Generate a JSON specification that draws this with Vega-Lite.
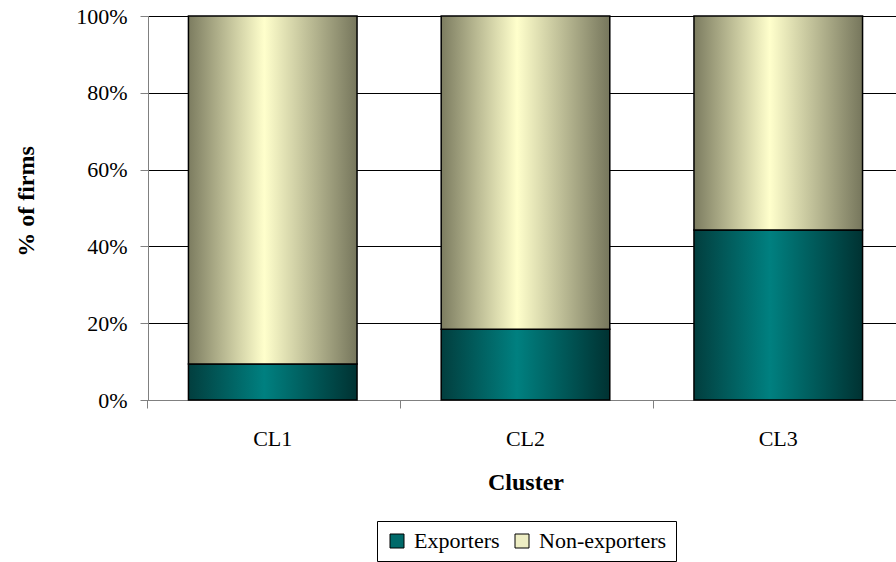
{
  "$schema": "https://vega.github.io/schema/vega-lite/v6.json",
  "autosize": {"type": "none"},
  "width": 748,
  "height": 384,
  "padding": {"left": 148, "top": 16, "right": 0, "bottom": 162},
  "background": "white",
  "config": {
    "font": "Liberation Serif",
    "view": {"stroke": null},
    "axis": {
      "labelFont": "Liberation Serif",
      "labelFontSize": 22,
      "labelColor": "#000000",
      "titleFont": "Liberation Serif",
      "titleFontSize": 24,
      "titleFontWeight": "bold",
      "titleColor": "#000000",
      "tickColor": "#808080",
      "domainColor": "#808080",
      "tickSize": 8
    },
    "legend": {
      "labelFont": "Liberation Serif",
      "labelFontSize": 22,
      "labelColor": "#000000"
    }
  },
  "data": {
    "values": [
      {"cluster": "CL1", "series": "Exporters", "order": 1, "share": 0.094},
      {"cluster": "CL1", "series": "Non-exporters", "order": 2, "share": 0.906},
      {"cluster": "CL2", "series": "Exporters", "order": 1, "share": 0.184},
      {"cluster": "CL2", "series": "Non-exporters", "order": 2, "share": 0.816},
      {"cluster": "CL3", "series": "Exporters", "order": 1, "share": 0.443},
      {"cluster": "CL3", "series": "Non-exporters", "order": 2, "share": 0.557}
    ]
  },
  "transform": [
    {"stack": "share", "groupby": ["cluster"], "sort": [{"field": "order", "order": "ascending"}], "as": ["v0", "v1"]}
  ],
  "encoding": {
    "x": {
      "field": "cluster",
      "type": "nominal",
      "sort": ["CL1", "CL2", "CL3"],
      "scale": {"range": [0, 755], "paddingInner": 0.333, "paddingOuter": 0.16},
      "axis": {
        "title": "Cluster",
        "labelAngle": 0,
        "labelPadding": 20,
        "titlePadding": 21,
        "bandPosition": -0.24,
        "grid": false
      }
    },
    "y": {
      "field": "v0",
      "type": "quantitative",
      "scale": {"domain": [0, 1], "nice": false},
      "axis": {
        "title": "% of firms",
        "values": [0, 0.2, 0.4, 0.6, 0.8, 1],
        "format": ".0%",
        "labelPadding": 13,
        "grid": true,
        "gridColor": "#000000",
        "gridWidth": 1,
        "titleAngle": -90,
        "titleX": -115,
        "titleY": 185,
        "titleBaseline": "alphabetic",
        "titleAlign": "center"
      }
    },
    "y2": {"field": "v1"}
  },
  "layer": [
    {
      "mark": {"type": "bar"},
      "encoding": {
        "color": {
          "field": "series",
          "type": "nominal",
          "sort": ["Exporters", "Non-exporters"],
          "scale": {"range": ["#006a6a", "#eeeec4"]},
          "legend": {
            "title": null,
            "orient": "none",
            "legendX": 229,
            "legendY": 505,
            "direction": "horizontal",
            "symbolType": "square",
            "symbolSize": 196,
            "symbolStrokeColor": "#000000",
            "symbolStrokeWidth": 1,
            "labelOffset": 6,
            "columnPadding": 11,
            "padding": 9,
            "strokeColor": "#000000",
            "labelLimit": 300
          }
        }
      }
    },
    {
      "transform": [{"filter": "datum.series === 'Exporters'"}],
      "mark": {
        "type": "bar",
        "stroke": "#000000",
        "strokeWidth": 1.5,
        "fill": {
          "gradient": "linear",
          "x1": 0, "y1": 0, "x2": 1, "y2": 0,
          "stops": [
            {"offset": 0, "color": "#023e3e"},
            {"offset": 0.45, "color": "#008080"},
            {"offset": 1, "color": "#003232"}
          ]
        }
      }
    },
    {
      "transform": [{"filter": "datum.series === 'Non-exporters'"}],
      "mark": {
        "type": "bar",
        "stroke": "#000000",
        "strokeWidth": 1.5,
        "fill": {
          "gradient": "linear",
          "x1": 0, "y1": 0, "x2": 1, "y2": 0,
          "stops": [
            {"offset": 0, "color": "#7c7c60"},
            {"offset": 0.45, "color": "#ffffcc"},
            {"offset": 1, "color": "#76765c"}
          ]
        }
      }
    }
  ]
}
